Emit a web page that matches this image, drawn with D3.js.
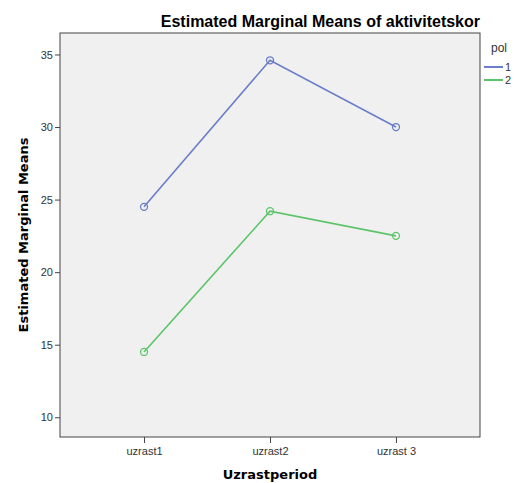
<!DOCTYPE html>
<html><head><meta charset="utf-8">
<script src="https://cdn.jsdelivr.net/npm/d3@7"></script>
<style>body{margin:0;background:#fff;} text{font-family:"Liberation Sans",Arial,sans-serif;}</style>
</head><body>
<svg id="c" width="529" height="483"></svg>
<script>
const categories = ["uzrast1", "uzrast2", "uzrast 3"];
const seriesNames = ["1", "2"];
const pol1 = [24.5, 34.6, 30.0];
const pol2 = [14.5, 24.2, 22.5];
const yTicks = [10, 15, 20, 25, 30, 35];
const colors = ["#6a7ec8", "#5cc46a"];

const svg = d3.select("#c");
const L = 60, T = 33, R = 480, B = 437;
const x = d3.scalePoint().domain(categories).range([L, R]).padding(0.667);
const y = d3.scaleLinear().domain([8.64, 36.48]).range([B, T]);

svg.append("rect").attr("x", L).attr("y", T).attr("width", R - L).attr("height", B - T)
  .attr("fill", "#f0f0f0").attr("stroke", "#444").attr("stroke-width", 1);

const yAxis = svg.append("g").attr("transform", `translate(${L},0)`)
  .call(d3.axisLeft(y).tickValues(yTicks).tickSize(5).tickPadding(2).tickFormat(d3.format("d")));
yAxis.select(".domain").remove();
yAxis.selectAll("line").attr("stroke", "#444");
yAxis.selectAll("text").attr("font-size", 11).attr("fill", "#333").style("font-family", "Liberation Sans, Arial, sans-serif");

const xAxis = svg.append("g").attr("transform", `translate(0,${B})`)
  .call(d3.axisBottom(x).tickSize(6).tickPadding(4));
xAxis.select(".domain").remove();
xAxis.selectAll("line").attr("stroke", "#444");
xAxis.selectAll("text").attr("font-size", 11).attr("fill", "#333").style("font-family", "Liberation Sans, Arial, sans-serif");

const series = [pol1, pol2];
const line = d3.line().x((d, i) => x(categories[i])).y(d => y(d));
series.forEach((s, k) => {
  svg.append("path").datum(s).attr("d", line).attr("fill", "none")
    .attr("stroke", colors[k]).attr("stroke-width", 1.6);
  svg.selectAll(null).data(s).enter().append("circle")
    .attr("cx", (d, i) => x(categories[i])).attr("cy", d => y(d)).attr("r", 3.5)
    .attr("fill", "none").attr("stroke", colors[k]).attr("stroke-width", 1.3);
});

svg.append("text").attr("x", R).attr("y", 27).attr("text-anchor", "end")
  .attr("font-size", 16).attr("font-weight", "bold").attr("fill", "#000")
  .text("Estimated Marginal Means of aktivitetskor");

svg.append("text").attr("transform", `translate(28,${(T + B) / 2}) rotate(-90)`)
  .attr("text-anchor", "middle").attr("font-size", 13).attr("font-weight", "bold")
  .style("font-family", "DejaVu Sans, sans-serif").attr("fill", "#000")
  .text("Estimated Marginal Means");

svg.append("text").attr("x", x(categories[1])).attr("y", 479).attr("text-anchor", "middle")
  .attr("font-size", 13).attr("font-weight", "bold")
  .style("font-family", "DejaVu Sans, sans-serif").attr("fill", "#000")
  .text("Uzrastperiod");

svg.append("text").attr("x", 491).attr("y", 52).attr("font-size", 12).attr("fill", "#333").text("pol");
seriesNames.forEach((n, k) => {
  const yy = 67 + k * 13;
  svg.append("line").attr("x1", 484).attr("x2", 503).attr("y1", yy).attr("y2", yy)
    .attr("stroke", colors[k]).attr("stroke-width", 2);
  svg.append("text").attr("x", 505).attr("y", yy + 4).attr("font-size", 11).attr("fill", "#333").text(n);
});
</script>
</body></html>
